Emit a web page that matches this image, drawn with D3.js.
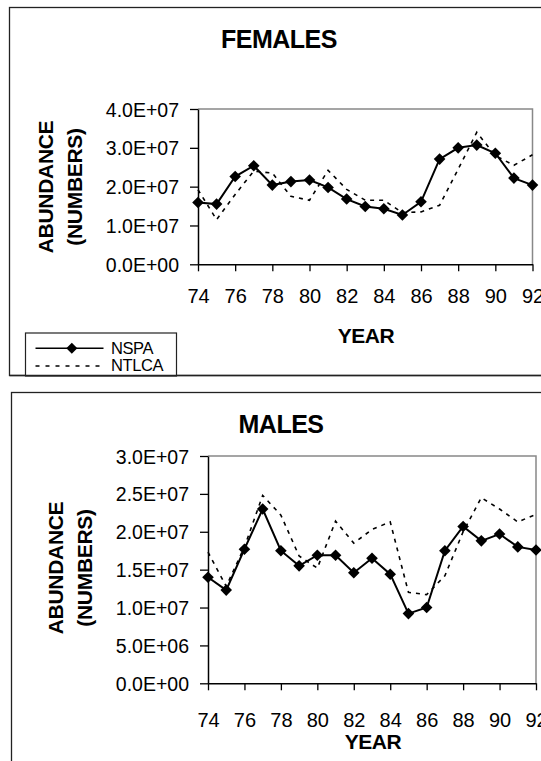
<!DOCTYPE html>
<html>
<head>
<meta charset="utf-8">
<script src="https://cdn.jsdelivr.net/npm/d3@7"></script>
<style>
  html, body { margin: 0; padding: 0; background: #fff; }
  svg { display: block; }
  text { font-family: "Liberation Sans", Arial, sans-serif; fill: #000; }
</style>
</head>
<body>
<svg id="chart" width="541" height="761"></svg>
<script>
// ---------- DATA ----------
const years = [74, 75, 76, 77, 78, 79, 80, 81, 82, 83, 84, 85, 86, 87, 88, 89, 90, 91, 92];
const xTickValues = [74, 76, 78, 80, 82, 84, 86, 88, 90, 92];

const femalesNSPA  = [1.59e7, 1.55e7, 2.26e7, 2.54e7, 2.04e7, 2.13e7, 2.17e7, 1.98e7, 1.68e7, 1.49e7,
                      1.43e7, 1.27e7, 1.61e7, 2.71e7, 3.00e7, 3.07e7, 2.86e7, 2.22e7, 2.04e7];
const femalesNTLCA = [1.92e7, 1.15e7, 1.80e7, 2.40e7, 2.35e7, 1.75e7, 1.65e7, 2.42e7, 1.93e7, 1.65e7,
                      1.65e7, 1.33e7, 1.35e7, 1.52e7, 2.45e7, 3.40e7, 2.80e7, 2.55e7, 2.82e7];

const malesNSPA  = [1.40e7, 1.23e7, 1.77e7, 2.30e7, 1.75e7, 1.55e7, 1.69e7, 1.69e7, 1.46e7, 1.65e7,
                    1.44e7, 0.92e7, 1.00e7, 1.75e7, 2.07e7, 1.88e7, 1.97e7, 1.80e7, 1.76e7];
const malesNTLCA = [1.73e7, 1.28e7, 1.80e7, 2.48e7, 2.22e7, 1.68e7, 1.52e7, 2.14e7, 1.85e7, 2.03e7,
                    2.13e7, 1.20e7, 1.17e7, 1.42e7, 2.00e7, 2.45e7, 2.30e7, 2.13e7, 2.23e7];

const femaleYTicks = [0, 1e7, 2e7, 3e7, 4e7];
const maleYTicks   = [0, 5e6, 1e7, 1.5e7, 2e7, 2.5e7, 3e7];

const seriesNames = ["NSPA", "NTLCA"];
const xAxisTitle = "YEAR";
const yAxisTitle1 = "ABUNDANCE";
const yAxisTitle2 = "(NUMBERS)";

// ---------- HELPERS ----------
function sci(v) {
  if (v === 0) return "0.0E+00";
  const e = Math.floor(Math.log10(Math.abs(v)) + 1e-9);
  const m = v / Math.pow(10, e);
  const es = (e < 0 ? "-" : "+") + String(Math.abs(e)).padStart(2, "0");
  return m.toFixed(1) + "E" + es;
}
const diamond = r => `M0,${-r}L${r},0L0,${r}L${-r},0Z`;

const svg = d3.select("#chart");

// panel frames
svg.append("rect").attr("x", 9.5).attr("y", 7.5).attr("width", 600).attr("height", 368)
  .attr("fill", "none").attr("stroke", "#222").attr("stroke-width", 1.3);
svg.append("rect").attr("x", 11.5).attr("y", 392.5).attr("width", 600).attr("height", 400)
  .attr("fill", "none").attr("stroke", "#222").attr("stroke-width", 1.3);

function drawPanel(cfg) {
  const g = svg.append("g");
  const x = d3.scaleLinear().domain([74, 92]).range([cfg.left, cfg.right]);
  const y = d3.scaleLinear().domain([0, cfg.yMax]).range([cfg.bottom, cfg.top]);

  // plot area grey border (top & right)
  g.append("path")
    .attr("d", `M${cfg.left},${cfg.top}H${cfg.right}V${cfg.bottom}`)
    .attr("fill", "none").attr("stroke", "#888").attr("stroke-width", 1.5);

  // Y axis
  const ya = g.append("g").attr("transform", `translate(${cfg.left},0)`)
    .call(d3.axisLeft(y).tickValues(cfg.yTicks).tickFormat(sci).tickSize(8).tickSizeOuter(0));
  ya.select(".domain").attr("stroke", "#000").attr("stroke-width", 1.5);
  ya.selectAll(".tick line").attr("stroke", "#000").attr("stroke-width", 1.3);
  ya.selectAll(".tick text").attr("x", -19).attr("dy", "0.36em")
    .style("font-size", "19.5px").style("font-family", "'Liberation Sans', Arial, sans-serif");

  // X axis
  const xa = g.append("g").attr("transform", `translate(0,${cfg.bottom})`)
    .call(d3.axisBottom(x).tickValues(xTickValues).tickFormat(d3.format("d")).tickSize(7).tickSizeOuter(0));
  xa.select(".domain").attr("stroke", "#000").attr("stroke-width", 1.5);
  xa.selectAll(".tick line").attr("stroke", "#000").attr("stroke-width", 1.3);
  xa.selectAll(".tick text").attr("y", cfg.xLabelOffset).attr("dy", 0)
    .style("font-size", "20px").style("font-family", "'Liberation Sans', Arial, sans-serif");

  // NTLCA dashed line
  const line = d3.line().x((d, i) => x(years[i])).y(d => y(d));
  g.append("path").datum(cfg.ntlca).attr("d", line)
    .attr("fill", "none").attr("stroke", "#000").attr("stroke-width", 1.6)
    .attr("stroke-dasharray", "4,5");

  // NSPA solid line with diamonds
  g.append("path").datum(cfg.nspa).attr("d", line)
    .attr("fill", "none").attr("stroke", "#000").attr("stroke-width", 2);
  g.selectAll(".dm").data(cfg.nspa).enter().append("path")
    .attr("transform", (d, i) => `translate(${x(years[i])},${y(d)})`)
    .attr("d", diamond(5.8)).attr("fill", "#000");

  // Titles
  g.append("text").attr("x", cfg.titleX).attr("y", cfg.titleY).attr("text-anchor", "middle")
    .style("font-size", "25px").style("font-weight", "bold").style("letter-spacing", "-0.5px")
    .text(cfg.title);
  g.append("text").attr("x", cfg.yearX).attr("y", cfg.yearY).attr("text-anchor", "middle")
    .style("font-size", "21px").style("font-weight", "bold").style("letter-spacing", "-0.5px")
    .text(xAxisTitle);
  g.append("text").attr("transform", `translate(${cfg.yt1X},${cfg.ytY}) rotate(-90)`)
    .attr("text-anchor", "middle")
    .style("font-size", "21px").style("font-weight", "bold").style("letter-spacing", "-0.3px")
    .text(yAxisTitle1);
  g.append("text").attr("transform", `translate(${cfg.yt2X},${cfg.ytY}) rotate(-90)`)
    .attr("text-anchor", "middle")
    .style("font-size", "21px").style("font-weight", "bold").style("letter-spacing", "-0.3px")
    .text(yAxisTitle2);
}

drawPanel({
  left: 198, right: 532.5, top: 109, bottom: 264.3, yMax: 4e7, yTicks: femaleYTicks,
  nspa: femalesNSPA, ntlca: femalesNTLCA, xLabelOffset: 38.4,
  title: "FEMALES", titleX: 279, titleY: 48.3,
  yearX: 366, yearY: 343,
  yt1X: 52.5, yt2X: 81.5, ytY: 187
});

drawPanel({
  left: 208, right: 536, top: 456, bottom: 683.3, yMax: 3e7, yTicks: maleYTicks,
  nspa: malesNSPA, ntlca: malesNTLCA, xLabelOffset: 44,
  title: "MALES", titleX: 281, titleY: 433.3,
  yearX: 373, yearY: 749,
  yt1X: 62.8, yt2X: 92, ytY: 568
});

// Legend (top panel)
const lg = svg.append("g");
lg.append("rect").attr("x", 25.5).attr("y", 333).attr("width", 151).attr("height", 43)
  .attr("fill", "#fff").attr("stroke", "#222").attr("stroke-width", 1.2);
lg.append("line").attr("x1", 35.5).attr("x2", 103.5).attr("y1", 348.3).attr("y2", 348.3)
  .attr("stroke", "#000").attr("stroke-width", 1.6);
lg.append("path").attr("transform", "translate(71.8,348.3)").attr("d", diamond(5.5)).attr("fill", "#000");
lg.append("line").attr("x1", 35.5).attr("x2", 103.5).attr("y1", 366).attr("y2", 366)
  .attr("stroke", "#000").attr("stroke-width", 1.6).attr("stroke-dasharray", "4,6");
lg.append("text").attr("x", 111).attr("y", 353.5).style("font-size", "16.5px").style("letter-spacing", "-0.4px").text(seriesNames[0]);
lg.append("text").attr("x", 111).attr("y", 370.5).style("font-size", "16.5px").style("letter-spacing", "-0.4px").text(seriesNames[1]);
// redraw panel bottom edge over the legend box
svg.append("line").attr("x1", 9.5).attr("x2", 541).attr("y1", 375.5).attr("y2", 375.5)
  .attr("stroke", "#222").attr("stroke-width", 1.3);
</script>
</body>
</html>
